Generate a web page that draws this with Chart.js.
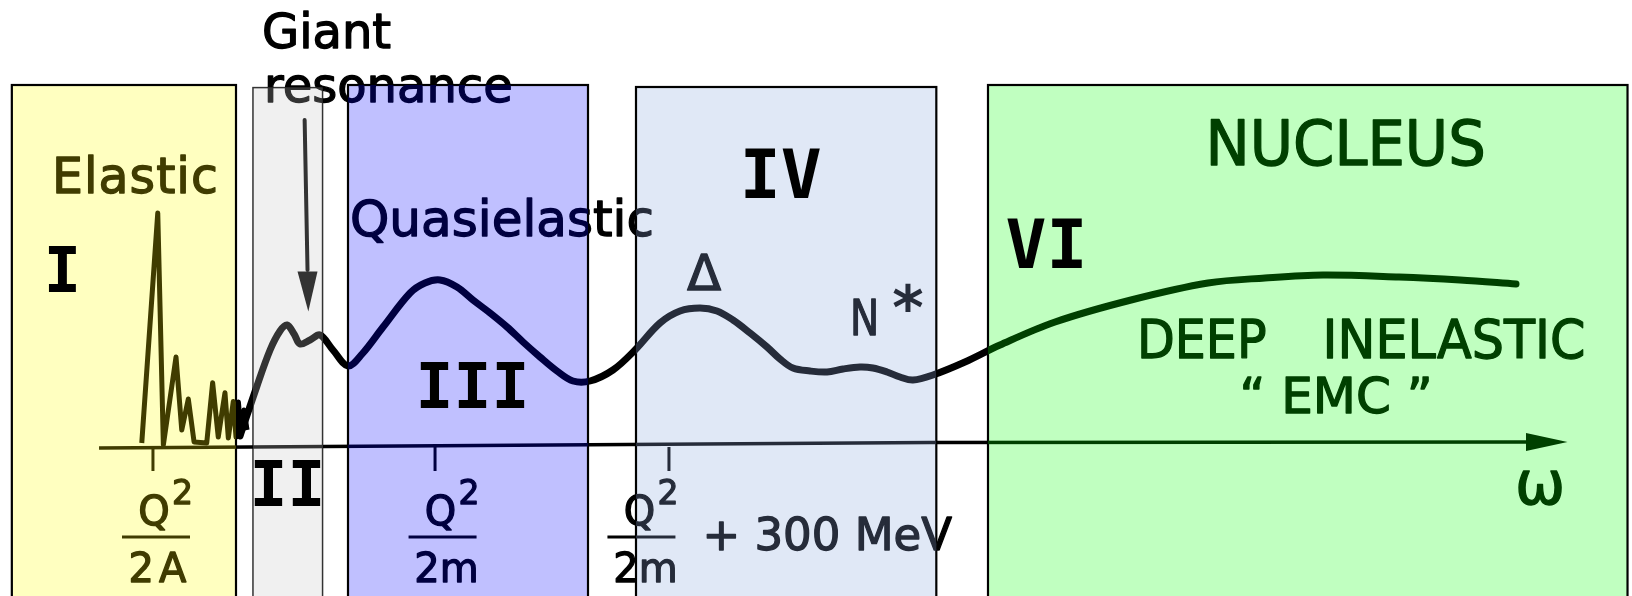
<!DOCTYPE html>
<html>
<head>
<meta charset="utf-8">
<title>Nuclear response regions</title>
<script src="https://cdn.jsdelivr.net/npm/chart.js@4.4.1/dist/chart.umd.min.js"></script>
<style>
  html, body { margin: 0; padding: 0; background: #fff; }
  #wrap { width: 1632px; height: 596px; }
</style>
</head>
<body>
<div id="wrap"><canvas id="chartRegions" width="1632" height="596"></canvas></div>
<script>
// regions along the energy transfer axis (arbitrary omega units)
const regionNames = ['I', 'II', 'III', 'IV', 'VI'];
const regionFrom = [0.74, 15.81, 21.75, 39.75, 61.75];
const regionTo = [14.75, 20.16, 36.75, 58.52, 101.72];
const regionTop = [90.75, 90.1, 90.75, 90.25, 90.75];

const regionFill = ['#ffffc0', '#f0f0f0', '#c0c0ff', '#e0e8f6', '#c0ffc0'];
const regionInk = ['#403c00', '#333333', '#000040', '#262c3a', '#004000'];

// elastic peaks
const elasticOmega = [8.86, 9.86, 10.21, 11.0, 11.36, 11.77, 12.13, 12.92, 13.29, 13.64, 14.06, 14.27, 14.58, 14.75, 14.9, 15.06, 15.25, 15.44];
const elasticResp = [1.25, 58.75, 0.75, 22.75, 4.5, 12.25, 1.5, 1.25, 16.3, 2.75, 13.8, 2.5, 11.6, 2.75, 11.5, 3.75, 9.5, 4.5];

// giant resonance, quasielastic, delta, N*, deep inelastic
const responseOmega = [15.0, 16.04, 16.88, 17.5, 17.94, 18.38, 18.75, 19.38, 20.0, 20.81, 21.75, 22.63, 23.94, 25.63, 26.56, 27.5, 28.56, 29.56, 30.63, 31.69, 32.69, 33.75, 34.81, 35.81, 36.88, 38.31, 39.69, 41.25, 42.5, 43.75, 44.81, 45.81, 46.88, 47.94, 48.75, 49.56, 50.63, 51.69, 52.69, 53.75, 54.56, 55.44, 56.25, 57.06, 58.31, 60.31, 62.5, 65.94, 70.69, 75.5, 79.06, 82.69, 87.44, 91.25, 94.75];
const responseValue = [3.0, 15.25, 24.5, 29.25, 30.75, 28.5, 26.0, 27.0, 28.25, 24.5, 20.5, 23.5, 30.25, 38.75, 41.25, 42.0, 40.25, 37.0, 33.75, 30.25, 26.5, 22.75, 19.25, 16.75, 16.75, 19.5, 24.5, 31.25, 34.25, 35.0, 34.25, 32.0, 28.75, 25.25, 22.25, 20.0, 19.25, 19.0, 19.75, 20.25, 20.0, 19.0, 17.75, 17.0, 18.25, 21.5, 25.75, 31.5, 37.0, 41.25, 42.5, 43.25, 42.75, 42.0, 41.0];

// omega axis
const axisOmega = [6.19, 58.1, 95.5];
const axisValue = [0, 1.4, 1.5];

// ticks
const tickOmega = [9.56, 27.19, 41.81];
const tickDen = ['2A', '2m', '2m'];
const tickExtra = ['', '', '+ 300 MeV'];

// where things are written
const fracAt = [9.75, 27.66, 40.09];
const numeralAt = [[3.9, 39.1, 62], [17.97, -14.5, 63], [29.53, 9.9, 63], [48.8, 62.5, 68], [65.4, 45, 68]];
const notes = [
    { t: 'Giant', x: 16.375, y: 100.1, size: 48 },
    { t: 'resonance', x: 16.5, y: 86.6, size: 48 },
    { t: 'Elastic', x: 3.25, y: 63.75, size: 49, spacing: 1 },
    { t: 'Quasielastic', x: 21.875, y: 52.9, size: 50 },
    { t: '\u0394', x: 44, y: 39.4, size: 50, align: 'center' },
    { t: 'N', x: 53.125, y: 28.25, size: 50, sx: 0.78 },
    { t: '*', x: 56.75, y: 29.75, size: 60, bold: true, align: 'center' },
    { t: 'NUCLEUS', x: 84.1, y: 70.75, size: 62, sx: 0.955, align: 'center' },
    { t: 'DEEP', x: 71.06, y: 22.4, size: 54, sx: 0.91 },
    { t: 'INELASTIC', x: 82.66, y: 22.4, size: 54, sx: 0.94 },
    { t: '\u201C EMC \u201D', x: 83.5, y: 8.75, size: 50, align: 'center' },
    { t: '\u03C9', x: 94.69, y: -13.9, size: 60 }
];

function rectOf(chart, i) {
    const x = chart.scales.x, y = chart.scales.y;
    const left = x.getPixelForValue(regionFrom[i]);
    const right = x.getPixelForValue(regionTo[i]);
    const top = y.getPixelForValue(regionTop[i]);
    return { left: left, top: top, w: right - left, h: chart.height - top };
}

// black on white, each box's own ink inside the box
function inkGradient(chart) {
    const x = chart.scales.x;
    const w = chart.width;
    const g = chart.ctx.createLinearGradient(0, 0, w, 0);
    g.addColorStop(0, '#000');
    regionFrom.forEach((f, i) => {
        const a = Math.min(1, x.getPixelForValue(f) / w);
        const b = Math.min(1, x.getPixelForValue(regionTo[i]) / w);
        g.addColorStop(a, '#000');
        g.addColorStop(a, regionInk[i]);
        g.addColorStop(b, regionInk[i]);
        g.addColorStop(b, '#000');
    });
    g.addColorStop(1, '#000');
    return g;
}

function ink(context) {
    const chart = context.chart;
    if (!chart.chartArea) return '#000';
    return inkGradient(chart);
}

function inked(chart, paint) {
    const ctx = chart.ctx;
    ctx.save();
    ctx.beginPath();
    ctx.rect(0, 0, chart.width, chart.height);
    regionNames.forEach((n, i) => {
        const r = rectOf(chart, i);
        ctx.rect(r.left, r.top, r.w, r.h);
    });
    ctx.clip('evenodd');
    ctx.fillStyle = ctx.strokeStyle = '#000';
    paint(ctx);
    ctx.restore();
    regionNames.forEach((n, i) => {
        const r = rectOf(chart, i);
        ctx.save();
        ctx.beginPath();
        ctx.rect(r.left, r.top, r.w, r.h);
        ctx.clip();
        ctx.fillStyle = ctx.strokeStyle = regionInk[i];
        paint(ctx);
        ctx.restore();
    });
}

// text with a thin outline so it looks like the heavier lettering of the original
function txt(ctx, s, x, y, size, o) {
    o = o || {};
    ctx.save();
    ctx.font = (o.bold ? 'bold ' : '') + size + 'px ' + (o.family || '"DejaVu Sans"');
    ctx.textAlign = o.align || 'left';
    ctx.textBaseline = 'alphabetic';
    if (o.spacing) ctx.letterSpacing = o.spacing + 'px';
    ctx.translate(x, y);
    ctx.scale(o.sx || 1, 1);
    ctx.fillText(s, 0, 0);
    if (!o.bold) {
        ctx.lineWidth = 1.3;
        ctx.lineJoin = 'round';
        ctx.strokeText(s, 0, 0);
    }
    ctx.restore();
}

const regionsPlugin = {
    id: 'regions',
    beforeDatasetsDraw(chart) {
        const ctx = chart.ctx;
        ctx.save();
        regionNames.forEach((n, i) => {
            const r = rectOf(chart, i);
            ctx.fillStyle = regionFill[i];
            ctx.fillRect(r.left, r.top, r.w, r.h);
            ctx.lineWidth = i == 1 ? 1.5 : 2.2;
            ctx.strokeStyle = i == 1 ? '#333' : '#000';
            ctx.strokeRect(r.left, r.top, r.w, r.h + 10);
        });
        ctx.restore();
    },
    afterDatasetsDraw(chart) {
        const ctx = chart.ctx;
        const sx = chart.scales.x, sy = chart.scales.y;
        const X = v => sx.getPixelForValue(v);
        const Y = v => sy.getPixelForValue(v);
        const axisPx = Y(0);

        inked(chart, c => {
            notes.forEach(n => txt(c, n.t, X(n.x), Y(n.y), n.size, n));

            // ticks and their labels
            tickOmega.forEach((w, i) => {
                const tx = X(w);
                c.lineWidth = 3;
                c.beginPath();
                c.moveTo(tx, axisPx - 1);
                c.lineTo(tx, axisPx + 23);
                c.stroke();
                const cx = X(fracAt[i]);
                txt(c, 'Q', cx - 2, axisPx + 77, 40, { align: 'center' });
                txt(c, '2', cx + 16, axisPx + 56, 33);
                c.lineWidth = 3;
                c.beginPath();
                c.moveTo(cx - 34, axisPx + 89);
                c.lineTo(cx + 34, axisPx + 89);
                c.stroke();
                txt(c, tickDen[i], cx + 4, axisPx + 134, 40, { align: 'center', spacing: tickDen[i] == '2A' ? 5 : 0 });
                if (tickExtra[i]) txt(c, tickExtra[i], cx + 61, axisPx + 102, 45);
            });

            // axis arrow head
            const ax = X(axisOmega[axisOmega.length - 1]);
            const ay = Y(axisValue[axisValue.length - 1]);
            c.beginPath();
            c.moveTo(ax - 2, ay - 9);
            c.lineTo(X(97.97), ay);
            c.lineTo(ax - 2, ay + 9);
            c.closePath();
            c.fill();

            // giant resonance arrow
            c.lineWidth = 4;
            c.lineCap = 'round';
            c.beginPath();
            c.moveTo(X(19.04), Y(82));
            c.lineTo(X(19.22), Y(44.5));
            c.stroke();
            c.beginPath();
            c.moveTo(X(19.22) - 10, Y(44.1));
            c.lineTo(X(19.22) + 10, Y(44.1));
            c.lineTo(X(19.27), Y(34.1));
            c.closePath();
            c.fill();
        });

        // region numerals
        ctx.save();
        ctx.fillStyle = '#000';
        regionNames.forEach((n, i) => {
            const p = numeralAt[i];
            txt(ctx, n, X(p[0]), Y(p[1]), p[2], { bold: true, align: 'center', family: '"DejaVu Sans Mono"' });
        });
        ctx.restore();
    }
};

const toPoints = (xs, ys) => xs.map((w, i) => ({ x: w, y: ys[i] }));

const chartRegions = new Chart(document.getElementById('chartRegions'), {
    type: 'line',
    data: {
        datasets: [
            {
                label: 'axis',
                data: toPoints(axisOmega, axisValue),
                borderColor: ink,
                borderWidth: 3.5,
                tension: 0
            },
            {
                label: 'elastic',
                data: toPoints(elasticOmega, elasticResp),
                borderColor: ink,
                borderWidth: 5,
                borderJoinStyle: 'round',
                tension: 0
            },
            {
                label: 'response',
                data: toPoints(responseOmega, responseValue),
                borderColor: ink,
                borderWidth: 7,
                borderCapStyle: 'round',
                borderJoinStyle: 'round',
                tension: 0.35
            }
        ]
    },
    options: {
        responsive: false,
        animation: false,
        layout: { padding: 0 },
        elements: { point: { radius: 0, hoverRadius: 0 } },
        plugins: { legend: { display: false }, tooltip: { enabled: false } },
        scales: {
            x: { type: 'linear', min: 0, max: 102, display: false },
            y: { type: 'linear', min: -37, max: 112, display: false }
        }
    },
    plugins: [regionsPlugin]
});
</script>
</body>
</html>
